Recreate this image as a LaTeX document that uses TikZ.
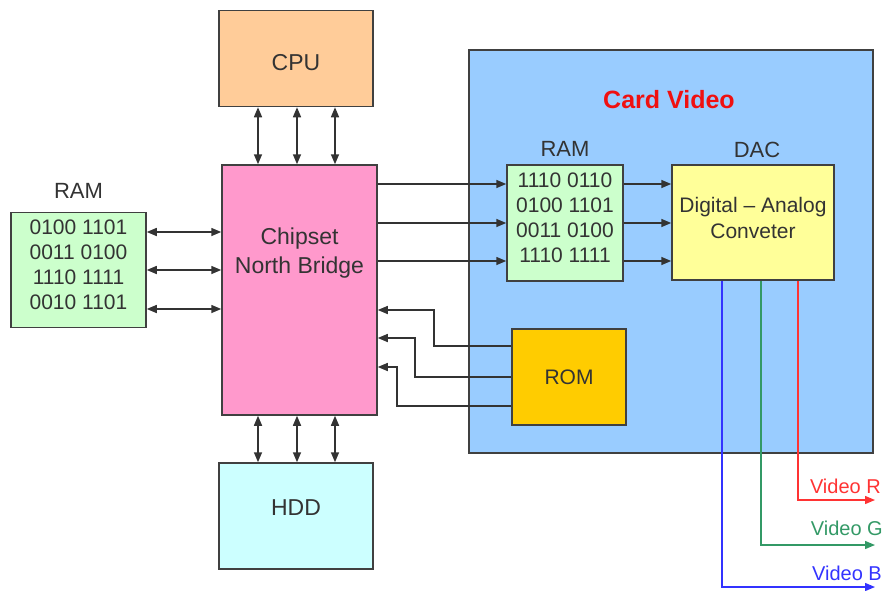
\documentclass[tikz,border=0pt]{standalone}
\usepackage{fontspec}
\setmainfont{Liberation Sans}
\usetikzlibrary{arrows.meta}
\definecolor{cpuorange}{HTML}{FFCC99}
\definecolor{chippink}{HTML}{FF99CC}
\definecolor{hddcyan}{HTML}{CCFFFF}
\definecolor{ramgreen}{HTML}{CCFFCC}
\definecolor{cardblue}{HTML}{99CCFF}
\definecolor{dacyellow}{HTML}{FFFF99}
\definecolor{romgold}{HTML}{FFCC00}
\definecolor{cardred}{HTML}{F01010}
\definecolor{vidred}{HTML}{FF3333}
\definecolor{vidgreen}{HTML}{339966}
\definecolor{vidblue}{HTML}{3333FF}
\begin{document}
\begin{tikzpicture}[x=1pt,y=-1pt,>={Triangle[length=10pt,width=8pt]},
  box/.style={draw=black!75, line width=1.5pt, inner sep=0pt, text=black!80,
    font=\fontsize{23}{29}\selectfont, align=center},
  bits/.style={box, fill=ramgreen, font=\fontsize{21}{25}\selectfont, text depth=11pt},
  lbl/.style={text=black!80, font=\fontsize{22}{26}\selectfont, inner sep=0pt},
  bus/.style={line width=1.5pt, draw=black!80},
  vid/.style={line width=1.3pt, ->},
  vidtext/.style={font=\fontsize{20}{24}\selectfont, inner sep=0pt, anchor=base east}]
 \useasboundingbox (0,0) rectangle (886,590);
 % card video
 \node[box, fill=cardblue, minimum width=404pt, minimum height=403pt] (card) at (671,251.5) {};
 \node[font=\fontsize{25}{30}\selectfont\bfseries, text=cardred, anchor=base, inner sep=0pt] (cardtitle) at (669,108) {Card Video};
 % boxes
 \node[box, fill=cpuorange, minimum width=154pt, minimum height=96pt, text height=24pt] (cpu) at (296,58.5) {CPU};
 \node[box, fill=chippink, minimum width=155pt, minimum height=250pt] (chip) at (299.5,290) {};
 \node[box, draw=none] (chiptext) at (299.5,253) {Chipset\\North Bridge};
 \node[box, fill=hddcyan, minimum width=154pt, minimum height=106pt, text depth=16pt] (hdd) at (296,516) {HDD};
 \node[bits, minimum width=135pt, minimum height=115pt] (ram) at (78.5,270) {0100 1101\\0011 0100\\1110 1111\\0010 1101};
 \node[bits, minimum width=116pt, minimum height=116pt] (vram) at (565,223) {1110 0110\\0100 1101\\0011 0100\\1110 1111};
 \node[box, fill=dacyellow, font=\fontsize{21}{26}\selectfont, text depth=10pt, minimum width=162pt, minimum height=115pt] (dac) at (753,222.5) {Digital -- Analog\\Conveter};
 \node[box, fill=romgold, font=\fontsize{21}{25}\selectfont, minimum width=114pt, minimum height=96pt] (rom) at (569,377) {ROM};
 % labels
 \node[lbl, anchor=base] (ramlbl) at ([yshift=13pt]ram.north) {RAM};
 \node[lbl, anchor=base] (vramlbl) at ([yshift=8pt]vram.north) {RAM};
 \node[lbl, anchor=base] (daclbl) at ([xshift=4pt,yshift=7pt]dac.north) {DAC};
 % buses
 \foreach \dx in {-38,1,39} {
  \draw[bus,<->] ([xshift=\dx pt]cpu.south) -- ([xshift=\dx pt]cpu.south |- chip.north);
  \draw[bus,<->] ([xshift=\dx pt]hdd.north) -- ([xshift=\dx pt]hdd.north |- chip.south);
 }
 \foreach \dy in {38,0,-39}
  \draw[bus,<->] ([yshift=\dy pt]ram.east) -- ([yshift=\dy pt]ram.east -| chip.west);
 \foreach \dy in {39,0,-38} {
  \draw[bus,->] ([yshift=\dy pt]vram.west -| chip.east) -- ([yshift=\dy pt]vram.west);
  \draw[bus,->] ([yshift=\dy pt]vram.east) -- ([yshift=\dy pt]vram.east -| dac.west);
 }
 \foreach \dy/\bx/\ty in {31/434/310, 0/415/338, -29/397/367}
  \draw[bus,->] ([yshift=\dy pt]rom.west) -| (\bx,\ty) -- (chip.east |- 0,\ty);
 % video outputs
 \coordinate (outR) at (875,500);
 \coordinate (outG) at (875,545);
 \coordinate (outB) at (875,587);
 \draw[vid, vidred] ([xshift=45pt]dac.south) |- (outR);
 \draw[vid, vidgreen] ([xshift=8pt]dac.south) |- (outG);
 \draw[vid, vidblue] ([xshift=-31pt]dac.south) |- (outB);
 \node[vidtext, text=vidred] (vidR) at (881,493) {Video R};
 \node[vidtext, text=vidgreen] (vidG) at (883,535) {Video G};
 \node[vidtext, text=vidblue] (vidB) at (882,580) {Video B};
\end{tikzpicture}
\end{document}
